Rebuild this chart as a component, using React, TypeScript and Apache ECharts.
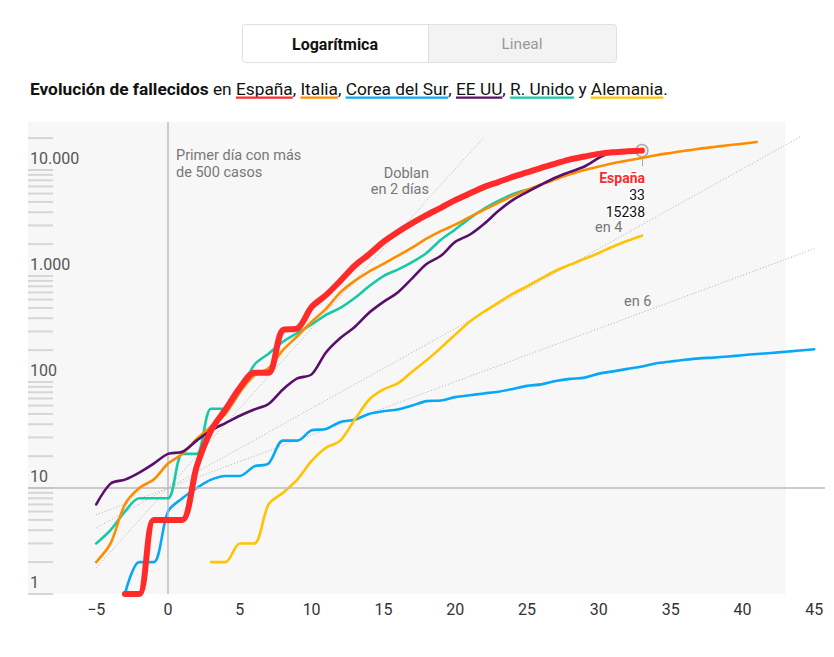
import React, { useEffect, useRef } from 'react';
import * as echarts from 'echarts';

// ---------- data ----------
const xTickLabels = [-5, 0, 5, 10, 15, 20, 25, 30, 35, 40, 45];
const yTickLabels = [1, 10, 100, 1000, 10000];
const tickMultipliers = [1, 2, 3, 4, 5, 6, 7, 8, 9];
const tickDecades = [1, 10, 100, 1000, 10000];

const espanaStart = -3;
const espana = [1, 1, 5, 5, 5, 16, 35, 55, 88, 122, 122, 310, 320, 510, 660, 900, 1250, 1600, 2100, 2600, 3150, 3750, 4400, 5200, 6000, 6900, 7700, 8600, 9500, 10500, 11500, 12600, 13400, 14200, 14700, 15000, 15238];

const italiaStart = -5;
const italia = [2, 3, 7, 10, 12, 17, 21, 29, 38, 50, 80, 115, 135, 200, 270, 370, 490, 700, 900, 1100, 1300, 1550, 1850, 2250, 2650, 3050, 3600, 4200, 4900, 5700, 6500, 7300, 8200, 9100, 10000, 10800, 11600, 12300, 13000, 13800, 14500, 15200, 15900, 16500, 17100, 17700, 18400];

const coreaStart = -3;
const corea = [1, 2, 2, 6, 8, 10, 12, 13, 13, 16, 17, 28, 28, 35, 36, 42, 44, 50, 53, 55, 60, 66, 67, 72, 75, 78, 81, 86, 92, 95, 102, 107, 110, 120, 126, 133, 140, 150, 156, 162, 167, 170, 174, 179, 184, 188, 193, 198, 204];

const eeuuStart = -5;
const eeuu = [7, 11, 12, 14, 17, 21, 22, 28, 35, 41, 48, 55, 62, 85, 108, 118, 190, 260, 330, 450, 570, 700, 950, 1300, 1550, 2100, 2450, 3100, 4100, 5200, 6200, 7300, 8500, 9600, 10800, 13000, 15200];

const unidoStart = -5;
const unido = [3, 4, 6, 8, 8, 8, 21, 21, 56, 56, 80, 145, 185, 240, 290, 350, 430, 500, 620, 800, 1000, 1150, 1350, 1650, 2200, 2750, 3500, 4300, 5100, 5900, 6500];

const alemaniaStart = 3;
const alemania = [2, 2, 3, 3, 7, 9, 12, 18, 24, 28, 44, 68, 85, 97, 125, 160, 210, 280, 370, 460, 560, 680, 800, 950, 1120, 1280, 1450, 1650, 1900, 2150, 2400];

// reference "doubling" lines: endpoints
const dobla2 = [[-5, 1.77], [22, 20480]];
const dobla4 = [[-5, 4.2], [44, 20480]];
const dobla6 = [[-5, 5.6], [45, 1810]];

const espanaLastDay = 33;
const espanaLastValue = 15238;

// ---------- styles ----------
const C_ES = '#ff2a2a';
const C_IT = '#ff8c00';
const C_KR = '#08a8f5';
const C_US = '#5a0f6b';
const C_UK = '#17c9a6';
const C_DE = '#ffc300';

const FONT = 'Roboto, "Noto Sans", sans-serif';
const X_MIN = -9.75;
const X_MAX = 45.75;
const Y_MIN = 1;
const Y_MAX = 28380;

const toPairs = (start: number, vals: number[]) => vals.map((v, i) => [start + i, v]);

const fmtThousands = (v: number) => String(Math.round(v)).replace(/\B(?=(\d{3})+(?!\d))/g, '.');

export default function App() {
  const ref = useRef<HTMLDivElement>(null);

  useEffect(() => {
    document.body.style.margin = '0';
    if (!ref.current) return;
    const chart = echarts.init(ref.current, undefined, { renderer: 'svg' });

    const ctx = document.createElement('canvas').getContext('2d') as CanvasRenderingContext2D;
    const measure = (t: string, font: string) => {
      ctx.font = font;
      return ctx.measureText(t).width;
    };

    const subtitleParts: { text: string; bold?: boolean; color?: string }[] = [
      { text: 'Evolución de fallecidos', bold: true },
      { text: ' en ' },
      { text: 'España', color: C_ES },
      { text: ', ' },
      { text: 'Italia', color: C_IT },
      { text: ', ' },
      { text: 'Corea del Sur', color: C_KR },
      { text: ', ' },
      { text: 'EE UU', color: C_US },
      { text: ', ' },
      { text: 'R. Unido', color: C_UK },
      { text: ' y ' },
      { text: 'Alemania', color: C_DE },
      { text: '.' },
    ];
    const fontFor = (bold: boolean | undefined, size: number) => `${bold ? 'bold ' : ''}${size}px ${FONT}`;
    // fit the sentence into the width it has in the reference (x 30 → 667)
    const baseWidth = subtitleParts.reduce((s, p) => s + measure(p.text, fontFor(p.bold, 16)), 0);
    const subSize = Math.round(16 * (637 / baseWidth) * 10) / 10;
    const subElems: any[] = [];
    let cx = 30;
    subtitleParts.forEach((p) => {
      const font = fontFor(p.bold, subSize);
      const w = measure(p.text, font);
      subElems.push({
        type: 'text',
        x: cx,
        y: 89,
        style: {
          text: p.text,
          font,
          fill: '#111',
          textAlign: 'left',
          align: 'left',
          textVerticalAlign: 'middle',
          verticalAlign: 'middle',
        },
      });
      if (p.color) {
        subElems.push({
          type: 'rect',
          shape: { x: cx, y: 96.5, width: w, height: 2.2 },
          style: { fill: p.color },
        });
      }
      cx += w;
    });

    const txt = (text: string, x: number, y: number, opts: any = {}) => ({
      type: 'text',
      x,
      y,
      z: 50,
      style: {
        text,
        font: opts.font || `14.5px ${FONT}`,
        fill: opts.fill || '#777',
        textAlign: opts.align || 'left',
        align: opts.align || 'left',
        textVerticalAlign: opts.valign || 'middle',
        verticalAlign: opts.valign || 'middle',
        lineHeight: opts.lineHeight,
        rich: opts.rich,
        stroke: opts.stroke,
        lineWidth: opts.lineWidth,
      },
    });

    const minorTicks: number[] = [];
    tickDecades.forEach((d) => tickMultipliers.forEach((m) => minorTicks.push(d * m)));
    const visibleTicks = minorTicks.filter((v) => v <= Y_MAX);

    const lineSeries = (name: string, data: number[][], color: string, width: number, z: number) => ({
      name,
      type: 'line',
      data,
      showSymbol: false,
      smooth: 0.3,
      z,
      silent: true,
      lineStyle: { color, width, cap: 'round', join: 'round' },
    });

    const refLine = (name: string, data: number[][]) => ({
      name,
      type: 'line',
      data,
      showSymbol: false,
      z: 2,
      silent: true,
      lineStyle: { color: '#b0b0b0', width: 1, type: [1, 2] },
    });

    chart.setOption({
      animation: false,
      grid: { left: 28, right: 9, top: 122, bottom: 63 },
      xAxis: {
        type: 'value',
        min: X_MIN,
        max: X_MAX,
        axisLine: { show: false },
        axisTick: { show: false },
        splitLine: { show: false },
        axisLabel: {
          customValues: xTickLabels,
          formatter: (v: number) => (v < 0 ? '\u2212' + Math.abs(v) : String(v)),
          fontSize: 16,
          fontFamily: FONT,
          color: '#333',
          margin: 7,
        },
      },
      yAxis: {
        type: 'log',
        logBase: 10,
        min: Y_MIN,
        max: Y_MAX,
        axisLine: { show: false },
        axisTick: { show: false },
        splitLine: { show: false },
        axisLabel: { show: false },
      },
      series: [
        {
          name: 'fondo',
          type: 'line',
          data: [],
          z: 0,
          silent: true,
          markArea: {
            silent: true,
            itemStyle: { color: '#f7f7f7' },
            data: [[{ coord: [X_MIN, Y_MIN] }, { coord: [43, Y_MAX] }]],
          },
          markLine: {
            silent: true,
            symbol: 'none',
            label: { show: false },
            lineStyle: { color: '#bdbdbd', width: 1.5, type: 'solid' },
            data: [{ yAxis: 10 }, { xAxis: 0 }],
          },
        },
        {
          name: 'ticks',
          type: 'custom',
          z: 1,
          silent: true,
          data: visibleTicks.map((v) => [X_MIN, v]),
          renderItem: (_p: any, api: any) => {
            const pt = api.coord([api.value(0), api.value(1)]);
            return {
              type: 'line',
              shape: { x1: pt[0], y1: pt[1], x2: pt[0] + 25, y2: pt[1] },
              style: { stroke: '#d6d6d6', lineWidth: 2 },
            };
          },
        },
        {
          name: 'yLabels',
          type: 'custom',
          z: 1,
          silent: true,
          data: yTickLabels.map((v) => [X_MIN, v]),
          renderItem: (_p: any, api: any) => {
            const v = api.value(1);
            const pt = api.coord([api.value(0), v]);
            return {
              type: 'text',
              x: pt[0] + 2,
              y: pt[1] - 3.5,
              style: {
                text: fmtThousands(v),
                font: `16px ${FONT}`,
                fill: '#555',
                textAlign: 'left',
                align: 'left',
                textVerticalAlign: 'bottom',
                verticalAlign: 'bottom',
              },
            };
          },
        },
        refLine('Doblan en 2 días', dobla2),
        refLine('en 4', dobla4),
        refLine('en 6', dobla6),
        lineSeries('Corea del Sur', toPairs(coreaStart, corea), C_KR, 2.6, 3),
        lineSeries('Alemania', toPairs(alemaniaStart, alemania), C_DE, 2.6, 4),
        lineSeries('R. Unido', toPairs(unidoStart, unido), C_UK, 2.6, 5),
        lineSeries('Italia', toPairs(italiaStart, italia), C_IT, 2.6, 6),
        lineSeries('EE UU', toPairs(eeuuStart, eeuu), C_US, 2.6, 7),
        {
          ...lineSeries('España', toPairs(espanaStart, espana), C_ES, 6, 8),
          markPoint: {
            silent: true,
            symbol: 'circle',
            symbolSize: 12,
            itemStyle: { color: 'rgba(0,0,0,0)', borderColor: '#aaa', borderWidth: 1.5 },
            label: { show: false },
            data: [{ coord: [espanaLastDay, espanaLastValue] }],
          },
          markLine: {
            silent: true,
            symbol: 'none',
            label: { show: false },
            lineStyle: { color: '#aaa', width: 1, type: 'solid' },
            data: [[{ coord: [espanaLastDay, 13500] }, { coord: [espanaLastDay, 10900] }]],
          },
        },
      ],
      graphic: [
        {
          type: 'rect',
          shape: { x: 242.5, y: 24.5, width: 186, height: 38, r: [3, 0, 0, 3] },
          style: { fill: '#fff', stroke: '#e0e0e0', lineWidth: 1 },
        },
        {
          type: 'rect',
          shape: { x: 428.5, y: 24.5, width: 188, height: 38, r: [0, 3, 3, 0] },
          style: { fill: '#f3f3f3', stroke: '#e0e0e0', lineWidth: 1 },
        },
        txt('Logarítmica', 335, 44, { font: `bold 16px ${FONT}`, fill: '#111', align: 'center' }),
        txt('Lineal', 522, 44, { font: `15.5px ${FONT}`, fill: '#999', align: 'center' }),
        ...subElems,
        txt('Primer día con más\nde 500 casos', 176, 163.5, { lineHeight: 17 }),
        txt('Doblan\nen 2 días', 429, 181, { align: 'right', lineHeight: 16 }),
        txt('en 4', 595, 227),
        txt('en 6', 624, 301),
        txt(`{a|España}\n{b|${espanaLastDay}}\n{b|${espanaLastValue}}`, 645, 195, {
          align: 'right',
          fill: '#111',
          rich: {
            a: { font: `bold 14px ${FONT}`, fill: C_ES, lineHeight: 17, align: 'right' },
            b: { font: `14px ${FONT}`, fill: '#111', lineHeight: 17, align: 'right' },
          },
          stroke: '#fff',
          lineWidth: 3,
        }),
      ],
    });

    return () => chart.dispose();
  }, []);

  return <div ref={ref} style={{ width: 834, height: 657 }} />;
}
